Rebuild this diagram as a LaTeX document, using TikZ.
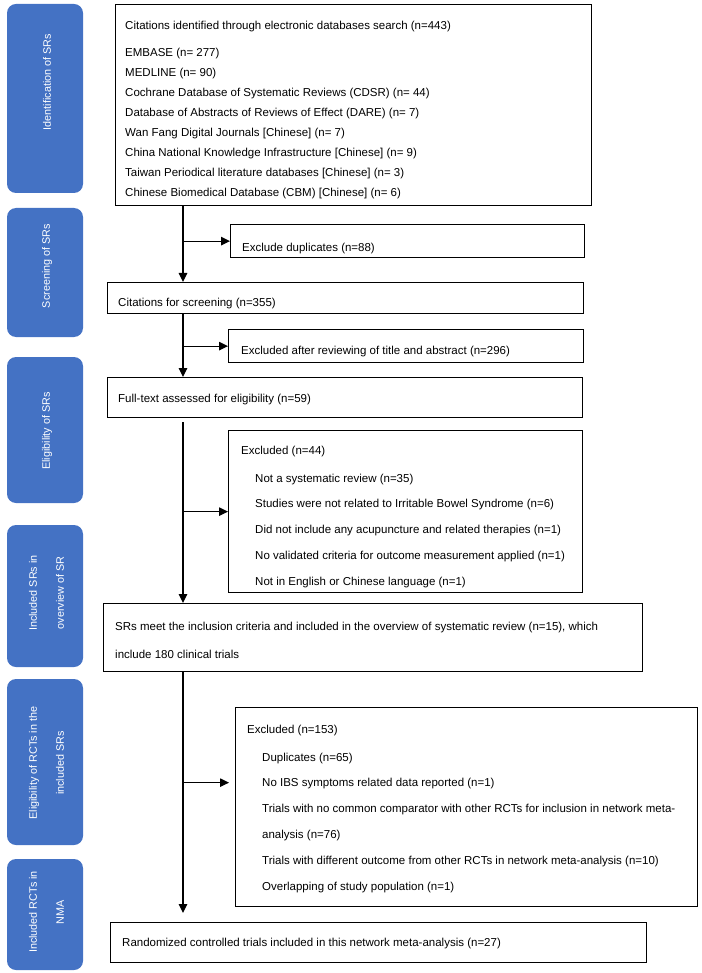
\documentclass[tikz,border=0pt]{standalone}
\usepackage{fontspec}
\setmainfont{Liberation Sans}
\usetikzlibrary{arrows.meta}
\definecolor{stageblue}{HTML}{4472C4}
\tikzset{
  stage/.style={fill=stageblue, draw=none, rounded corners=9pt, rotate=90, minimum height=76pt, inner sep=0pt},
  stagetxt/.style={text=white, rotate=90, align=center, inner sep=0pt, font=\fontsize{10.8}{27}\selectfont},
  box/.style={draw, line width=1.3pt, anchor=north west, inner sep=0pt},
  txt/.style={anchor=north west, inner sep=0pt, align=left, font=\fontsize{11.5}{20}\selectfont},
  arr/.style={-{Triangle[length=9pt,width=8.5pt]}, line width=1.1pt},
}
\begin{document}
\begin{tikzpicture}[x=1pt,y=-1pt]
			\useasboundingbox (0,0) rectangle (701,973);
			\node [stage, minimum width=189pt] (ident) at (45,98.5) {};
			\node [stage, minimum width=129pt] (screen) at (45,272.5) {};
			\node [stage, minimum width=146pt] (elig) at (45,430) {};
			\node [stage, minimum width=142pt] (incl) at (45,596) {};
			\node [stage, minimum width=166pt] (rctelig) at (45,762) {};
			\node [stage, minimum width=111pt] (nma) at (45,914.5) {};
			\node [stagetxt] (identtxt) at (47,82) {Identification of SRs};
			\node [stagetxt] (screentxt) at (47,266) {Screening of SRs};
			\node [stagetxt] (eligtxt) at (47,431) {Eligibility of SRs};
			\node [stagetxt] (incltxt) at (46.5,593) {Included SRs in\\overview of SR};
			\node [stagetxt] (rcteligtxt) at (46.5,763) {Eligibility of RCTs in the\\included SRs};
			\node [stagetxt] (nmatxt) at (46.5,912) {Included RCTs in\\NMA};
			\node [box, minimum width=476pt, minimum height=201pt] (search) at (115,4) {};
			\node [box, minimum width=354pt, minimum height=33pt] (dup) at (230,224) {};
			\node [box, minimum width=476pt, minimum height=31pt] (screening) at (107,282) {};
			\node [box, minimum width=355pt, minimum height=33pt] (titleexcl) at (228,329) {};
			\node [box, minimum width=475pt, minimum height=40pt] (fulltext) at (107,377) {};
			\node [box, minimum width=354pt, minimum height=162pt] (exclsr) at (228,430) {};
			\node [box, minimum width=539pt, minimum height=68pt] (included) at (103,603) {};
			\node [box, minimum width=462pt, minimum height=199pt] (exclrct) at (235,707) {};
			\node [box, minimum width=536pt, minimum height=40pt] (final) at (110,922) {};
			\node [txt] (searchtxt) at (125,20.5) {Citations identified through electronic databases search (n=443)\\[7pt]
				EMBASE (n= 277)\\
				MEDLINE (n= 90)\\
				Cochrane Database of Systematic Reviews (CDSR) (n= 44)\\
				Database of Abstracts of Reviews of Effect (DARE) (n= 7)\\
				Wan Fang Digital Journals [Chinese] (n= 7)\\
				China National Knowledge Infrastructure [Chinese] (n= 9)\\
				Taiwan Periodical literature databases [Chinese] (n= 3)\\
				Chinese Biomedical Database (CBM) [Chinese] (n= 6)};
			\node [txt] (duptxt) at (242,242.5) {Exclude duplicates (n=88)};
			\node [txt] (screeningtxt) at (118,297.5) {Citations for screening (n=355)};
			\node [txt] (titletxt) at (241,345.5) {Excluded after reviewing of title and abstract (n=296)};
			\node [txt] (fulltxt) at (118,393.5) {Full-text assessed for eligibility (n=59)};
			\node [txt] (exclsrhead) at (241,445.5) {Excluded (n=44)};
			\node [txt, font=\fontsize{11.5}{25.75}\selectfont] (exclsrlist) at (255,473.5) {Not a systematic review (n=35)\\
				Studies were not related to Irritable Bowel Syndrome (n=6)\\
				Did not include any acupuncture and related therapies (n=1)\\
				No validated criteria for outcome measurement applied (n=1)\\
				Not in English or Chinese language (n=1)};
			\node [txt, font=\fontsize{11.5}{28}\selectfont] (includedtxt) at (115,621.5) {SRs meet the inclusion criteria and included in the overview of systematic review (n=15), which\\
				include 180 clinical trials};
			\node [txt] (exclrcthead) at (247,724.5) {Excluded (n=153)};
			\node [txt, font=\fontsize{11.5}{25.8}\selectfont] (exclrctlist) at (262,752.5) {Duplicates (n=65)\\
				No IBS symptoms related data reported (n=1)\\
				Trials with no common comparator with other RCTs for inclusion in network meta-\\
				analysis (n=76)\\
				Trials with different outcome from other RCTs in network meta-analysis (n=10)\\
				Overlapping of study population (n=1)};
			\node [txt] (finaltxt) at (122,937.5) {Randomized controlled trials included in this network meta-analysis (n=27)};
			\coordinate (trunk) at (183,0);
			\coordinate (rctbranch) at ([yshift=24.5pt]exclrct.west);
			\draw [arr] (trunk |- search.south) -- (trunk |- screening.north);
			\draw [arr] (trunk |- dup.west) -- (dup.west);
			\draw [arr] (trunk |- screening.south) -- (trunk |- fulltext.north);
			\draw [arr] (trunk |- titleexcl.west) -- (titleexcl.west);
			\draw [arr, shorten <=4pt] (trunk |- fulltext.south) -- (trunk |- included.north);
			\draw [arr] (trunk |- exclsr.west) -- (exclsr.west);
			\draw [arr, shorten >=9pt] (trunk |- included.south) -- (trunk |- final.north);
			\draw [arr, shorten >=6pt] (trunk |- rctbranch) -- (rctbranch);
		\end{tikzpicture}
\end{document}
